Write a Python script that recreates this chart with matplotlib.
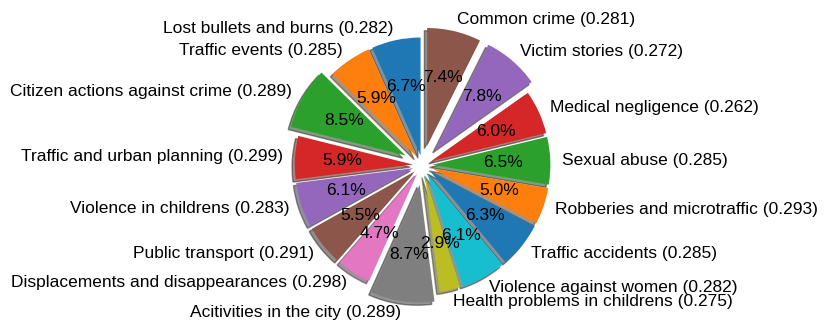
import matplotlib
matplotlib.use("Agg")
import matplotlib.pyplot as plt

plt.rcParams['font.family'] = ['Liberation Sans', 'DejaVu Sans']

categories = [
    "Lost bullets and burns", "Traffic events", "Citizen actions against crime",
    "Traffic and urban planning", "Violence in childrens", "Public transport",
    "Displacements and disappearances", "Acitivities in the city",
    "Health problems in childrens", "Violence against women", "Traffic accidents",
    "Robberies and microtraffic", "Sexual abuse", "Medical negligence",
    "Victim stories", "Common crime",
]
shares = [6.7, 5.9, 8.5, 5.9, 6.1, 5.5, 4.7, 8.7, 2.9, 6.1, 6.3, 5.0, 6.5, 6.0, 7.8, 7.4]
scores = [0.282, 0.285, 0.289, 0.299, 0.283, 0.291, 0.298, 0.289,
          0.275, 0.282, 0.285, 0.293, 0.285, 0.262, 0.272, 0.281]
explode = [0.1, 0.1, 0.2, 0.1, 0.1, 0.1, 0.1, 0.2,
           0.1, 0.1, 0.1, 0.1, 0.1, 0.1, 0.2, 0.2]

labels = [f"{c} ({s:.3f})" for c, s in zip(categories, scores)]

fig = plt.figure(figsize=(8.3, 3.34), dpi=100)
ax = fig.add_axes([0, 0, 1, 1])
ax.pie(shares, labels=labels, explode=explode, radius=1.2, startangle=90,
       shadow=True, autopct='%1.1f%%',
       textprops={'fontsize': 12.5, 'color': 'black'})

scale = 98.3
cx, cy = 422.6, 334 - 165.1
ax.set_aspect('auto')
ax.set_xlim(-cx / scale, (830 - cx) / scale)
ax.set_ylim(-cy / scale, (334 - cy) / scale)
ax.axis('off')

fig.savefig("out.png", dpi=100)
